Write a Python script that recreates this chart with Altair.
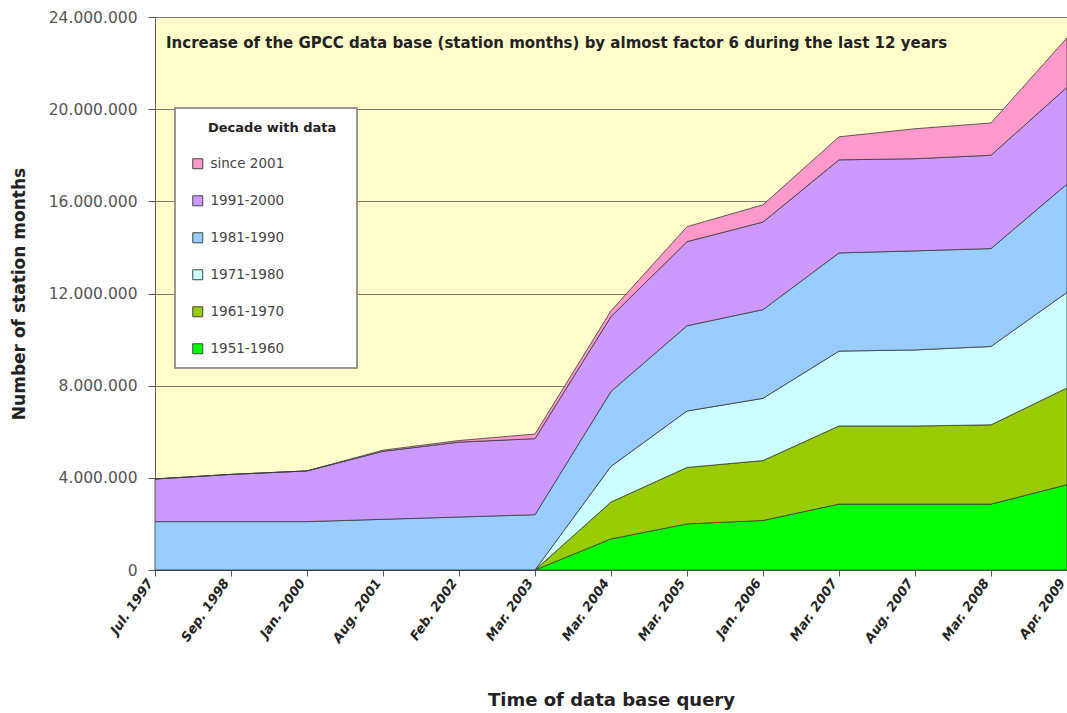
import altair as alt
import pandas as pd

dates = ["Jul. 1997", "Sep. 1998", "Jan. 2000", "Aug. 2001", "Feb. 2002", "Mar. 2003",
         "Mar. 2004", "Mar. 2005", "Jan. 2006", "Mar. 2007", "Aug. 2007", "Mar. 2008", "Apr. 2009"]

# station months per decade (millions), stacked bottom -> top
d1951 = [0, 0, 0, 0, 0, 0, 1.35, 2.00, 2.15, 2.86, 2.86, 2.86, 3.70]
d1961 = [0, 0, 0, 0, 0, 0, 1.60, 2.45, 2.60, 3.39, 3.39, 3.44, 4.20]
d1971 = [0, 0, 0, 0, 0, 0, 1.55, 2.45, 2.70, 3.25, 3.30, 3.40, 4.15]
d1981 = [2.10, 2.10, 2.10, 2.20, 2.30, 2.40, 3.25, 3.70, 3.85, 4.26, 4.30, 4.25, 4.70]
d1991 = [1.85, 2.05, 2.20, 2.95, 3.25, 3.30, 3.25, 3.65, 3.80, 4.04, 4.00, 4.05, 4.20]
d2001 = [0, 0, 0, 0.05, 0.07, 0.20, 0.25, 0.65, 0.75, 1.00, 1.30, 1.40, 2.15]

series = ["1951-1960", "1961-1970", "1971-1980", "1981-1990", "1991-2000", "since 2001"]
values = [d1951, d1961, d1971, d1981, d1991, d2001]
colors = ["#00FF00", "#99CC00", "#CCFFFF", "#99CCFF", "#CC99FF", "#FF99CC"]

rows = []
for i, (s, vals) in enumerate(zip(series, values)):
    for d, v in zip(dates, vals):
        rows.append({"date": d, "decade": s, "order": i, "value": v * 1_000_000})
df = pd.DataFrame(rows)

legend_order = list(reversed(series))
legend_colors = list(reversed(colors))

FONT = "DejaVu Sans"

areas = alt.Chart(df).mark_area(stroke="#3a3a3a", strokeWidth=0.8, opacity=1).encode(
    x=alt.X("date:N", sort=dates, scale=alt.Scale(type="point", padding=0),
            axis=alt.Axis(title="Time of data base query", labelAngle=-55, labelAlign="right",
                          labelBaseline="middle", labelPadding=4, labelOffset=-5, labelFont=FONT,
                          labelFontSize=13, labelFontWeight="bold", labelFontStyle="italic",
                          labelColor="#222222", tickColor="#555555", tickSize=6,
                          domainColor="#666666", titleFont=FONT, titleFontSize=18,
                          titleFontWeight="bold", titleColor="#222222", titlePadding=47,
                          grid=False)),
    y=alt.Y("value:Q", stack="zero", scale=alt.Scale(domain=[0, 24_000_000], nice=False),
            axis=alt.Axis(title="Number of station months",
                          values=[0, 4e6, 8e6, 12e6, 16e6, 20e6, 24e6],
                          labelExpr="replace(format(datum.value, ','), /,/g, '.')",
                          labelFont=FONT, labelFontSize=15.5, labelColor="#555555",
                          labelPadding=11, tickColor="#555555", tickSize=7,
                          domainColor="#666666", gridColor="#7a7a70", gridWidth=1,
                          titleFont=FONT, titleFontSize=17, titleFontWeight="bold",
                          titleColor="#222222", titlePadding=20)),
    color=alt.Color("decade:N", scale=alt.Scale(domain=legend_order, range=legend_colors),
                    legend=alt.Legend(title=None, orient="none", legendX=36, legendY=140,
                                      symbolType="square", symbolSize=100,
                                      symbolStrokeColor="#444444", symbolStrokeWidth=1,
                                      labelFont=FONT, labelFontSize=13.5,
                                      labelColor="#444444", rowPadding=22, labelOffset=6)),
    order=alt.Order("order:Q", sort="ascending"),
)

box_df = pd.DataFrame({"t": ["Decade with data"]})
box = alt.Chart(box_df).mark_rect(fill="white", stroke="#777777", strokeWidth=1.5).encode(
    x=alt.value(20), x2=alt.value(202), y=alt.value(91), y2=alt.value(351)
)
box_title = alt.Chart(box_df).mark_text(align="left", baseline="middle", font=FONT,
                                        fontSize=13, fontWeight="bold", color="#222222").encode(
    x=alt.value(53), y=alt.value(111), text="t:N"
)

head_df = pd.DataFrame({"t": ["Increase of the GPCC data base (station months) by almost factor 6 during the last 12 years"]})
headline = alt.Chart(head_df).mark_text(align="left", baseline="middle", font=FONT,
                                        fontSize=15, fontWeight="bold", color="#222222").encode(
    x=alt.value(11), y=alt.value(26), text="t:N"
)

chart = alt.layer(areas, box, box_title, headline).properties(
    width=912, height=553,
    autosize=alt.AutoSizeParams(type="none"),
    padding={"left": 155, "top": 17, "right": 0, "bottom": 143},
    background="white",
).configure_view(fill="#FFFFCC", stroke="#888888")

chart.save("out.html", embed_options={"renderer": "svg", "actions": False})
